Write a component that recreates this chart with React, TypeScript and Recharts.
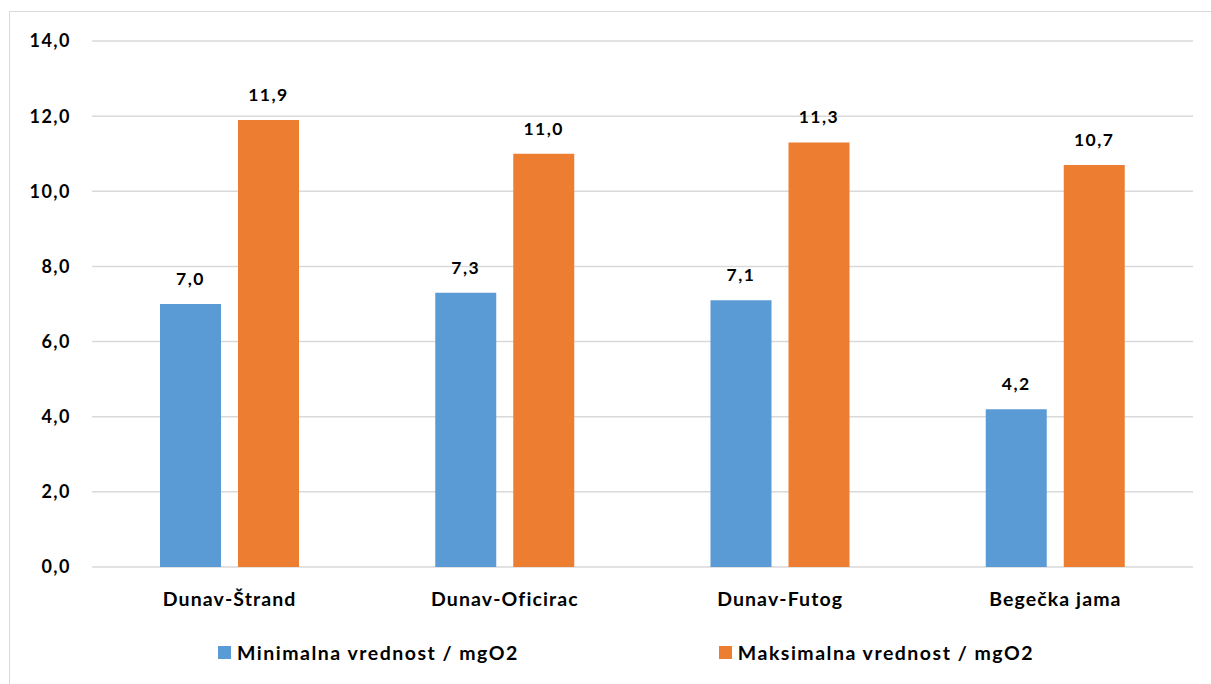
import React from "react";
import { BarChart, Bar, XAxis, YAxis, CartesianGrid, Legend, LabelList } from "recharts";

const categories = ["Dunav-Štrand", "Dunav-Oficirac", "Dunav-Futog", "Begečka jama"];
const minValues = [7.0, 7.3, 7.1, 4.2];
const maxValues = [11.9, 11.0, 11.3, 10.7];
const yTicks = [0, 2, 4, 6, 8, 10, 12, 14];
const seriesNames = ["Minimalna vrednost / mgO2", "Maksimalna vrednost / mgO2"];
const colors = ["#5B9BD5", "#ED7D31"];

const data = categories.map((c, i) => ({ name: c, min: minValues[i], max: maxValues[i] }));

const FONT = "Lato, 'Open Sans', sans-serif";
const fmt = (v: number) => v.toFixed(1).replace(".", ",");

const renderLegend = () => (
  <div style={{ display: "flex", alignItems: "center", height: 30, paddingLeft: 218, gap: 200, fontFamily: FONT, fontWeight: 700, fontSize: 19.5, letterSpacing: 1.5, color: "#000", boxSizing: "border-box" }}>
    {seriesNames.map((n, i) => (
      <div key={n} style={{ display: "flex", alignItems: "center" }}>
        <span style={{ display: "inline-block", width: 13, height: 13, background: colors[i], marginRight: 6 }} />
        <span>{n}</span>
      </div>
    ))}
  </div>
);

const labelStyle = { fontFamily: FONT, fontWeight: 700, fontSize: 17.5, letterSpacing: 1.5 };

export default function App() {
  return (
    <div style={{ position: "absolute", left: 0, top: 0, width: 1211, height: 684, background: "#fff" }}>
      <div style={{ position: "absolute", left: 9, top: 11, width: 1210, height: 680, border: "1px solid #d9d9d9", boxSizing: "border-box" }} />
      <div style={{ position: "absolute", left: 0, top: 0 }}>
        <BarChart
          width={1211}
          height={684}
          data={data}
          margin={{ top: 41, right: 18, left: 0, bottom: 0 }}
          barSize={61}
          barGap={17}
        >
          <CartesianGrid vertical={false} stroke="#d9d9d9" strokeWidth={1.5} />
          <XAxis
            dataKey="name"
            axisLine={false}
            tickLine={false}
            tickSize={0}
            tickMargin={25}
            height={87}
            tick={{ fill: "#000", fontFamily: FONT, fontWeight: 700, fontSize: 19.5, letterSpacing: 1.1 }}
          />
          <YAxis
            domain={[0, 14]}
            ticks={yTicks}
            width={92}
            axisLine={false}
            tickLine={false}
            tickSize={0}
            tickMargin={21}
            tickFormatter={fmt}
            tick={{ fill: "#000", fontFamily: FONT, fontWeight: 700, fontSize: 18, letterSpacing: 1.5 }}
          />
          <Legend verticalAlign="bottom" content={renderLegend} wrapperStyle={{ left: 0, width: 1211, bottom: 17, height: 30 }} />
          <Bar dataKey="min" name={seriesNames[0]} fill={colors[0]} isAnimationActive={false}>
            <LabelList dataKey="min" position="top" offset={19} formatter={fmt} fill="#000" style={labelStyle} />
          </Bar>
          <Bar dataKey="max" name={seriesNames[1]} fill={colors[1]} isAnimationActive={false}>
            <LabelList dataKey="max" position="top" offset={19} formatter={fmt} fill="#000" style={labelStyle} />
          </Bar>
        </BarChart>
      </div>
    </div>
  );
}
